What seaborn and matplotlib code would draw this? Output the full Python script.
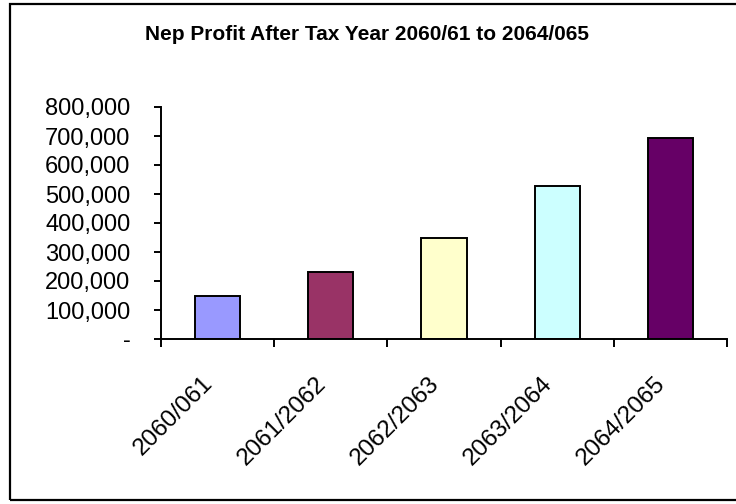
import matplotlib
matplotlib.use("Agg")
import matplotlib.pyplot as plt
from matplotlib.patches import Rectangle
from matplotlib.ticker import FuncFormatter, FixedLocator
from matplotlib.transforms import ScaledTranslation
import seaborn as sns
import pandas as pd

# Net profit after tax by fiscal year
years = ["2060/061", "2061/2062", "2062/2063", "2063/2064", "2064/2065"]
profit = [148000, 231000, 350000, 528000, 693000]
bar_colors = ["#9999FF", "#993366", "#FFFFCC", "#CCFFFF", "#660066"]
title = "Nep Profit After Tax Year 2060/61 to 2064/065"

sns.set_theme(style="white")
plt.rcParams["font.family"] = ["Liberation Sans", "DejaVu Sans"]
plt.rcParams.update({"text.color": "black", "xtick.color": "black",
                     "ytick.color": "black", "axes.labelcolor": "black"})

df = pd.DataFrame({"year": years, "profit": profit})

fig = plt.figure(figsize=(7.36, 5.04), dpi=100)
ax = fig.add_axes([161 / 736, 1 - 339 / 504, (727 - 161) / 736, (339 - 107) / 504])

sns.barplot(data=df, x="year", y="profit", hue="year", palette=bar_colors,
            legend=False, width=0.4, edgecolor="black", linewidth=1.4,
            saturation=1, ax=ax)

ax.set_xlim(-0.5, len(years) - 0.5)
ax.set_ylim(0, 800000)
ax.set_xlabel("")
ax.set_ylabel("")

# Y axis: accounting-style labels, zero shown as a dash
ax.set_yticks(range(0, 800001, 100000))
ax.yaxis.set_major_formatter(FuncFormatter(lambda v, _: "-" if v == 0 else f"{int(v):,}"))
ax.tick_params(axis="y", which="major", direction="out", length=5, width=1.4,
               color="black", labelcolor="black", labelsize=17, pad=17, left=True)

# X axis: labels at bar centres, tick marks at category boundaries
ax.set_xticks(range(len(years)))
ax.set_xticklabels(years, rotation=45, ha="right", rotation_mode="anchor")
ax.xaxis.set_minor_locator(FixedLocator([i - 0.5 for i in range(len(years) + 1)]))
ax.tick_params(axis="x", which="major", length=0, labelsize=17.5,
               labelcolor="black", pad=24)
ax.tick_params(axis="x", which="minor", direction="out", length=6, width=1.4,
               color="black", bottom=True)
shift = ScaledTranslation(-16 / 100, 0, fig.dpi_scale_trans)
for lab in ax.get_xticklabels():
    lab.set_transform(lab.get_transform() + shift)

for side in ("top", "right"):
    ax.spines[side].set_visible(False)
for side in ("left", "bottom"):
    ax.spines[side].set_color("black")
    ax.spines[side].set_linewidth(1.4)

fig.text(367 / 736, 1 - 34 / 504, title, ha="center", va="center",
         fontsize=15, fontweight="bold", color="black")

# Chart-area frame
fig.patches.append(Rectangle((10 / 736, 1 - 500 / 504), 1.0, (500 - 4) / 504,
                             transform=fig.transFigure, fill=False,
                             edgecolor="black", linewidth=1.6))

fig.savefig("out.png", dpi=100)
